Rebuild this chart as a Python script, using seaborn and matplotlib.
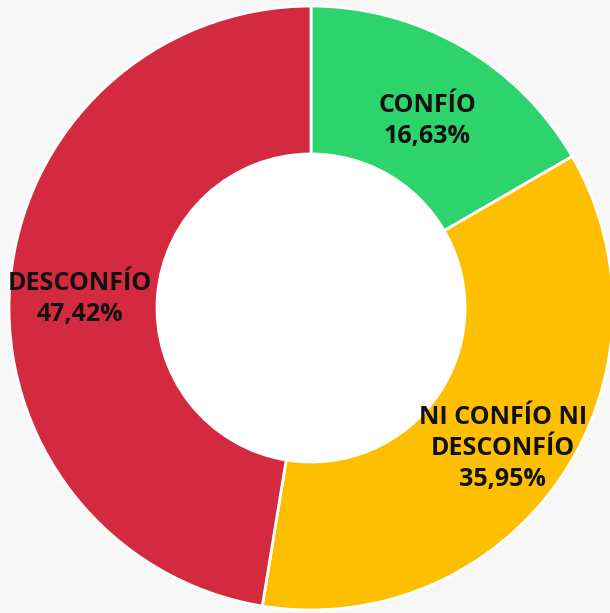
import matplotlib
matplotlib.use("Agg")
import matplotlib.pyplot as plt
import seaborn as sns

# data
categorias = ["CONFÍO", "NI CONFÍO NI\nDESCONFÍO", "DESCONFÍO"]
porcentajes = [16.63, 35.95, 47.42]
colores = ["#2dd36b", "#fdbf00", "#d42a40"]
etiquetas = ["16,63%", "35,95%", "47,42%"]

sns.set_theme(style="white")
plt.rcParams["font.family"] = ["Open Sans", "DejaVu Sans"]

fig = plt.figure(figsize=(6.10, 6.13), dpi=100)
fig.patch.set_facecolor("#f7f7f7")
ax = fig.add_axes([0, 0, 1, 1])
ax.set_facecolor("#f7f7f7")

wedges, _ = ax.pie(
    porcentajes,
    colors=colores,
    startangle=90,
    counterclock=False,
    radius=1.0,
    wedgeprops=dict(width=0.49, edgecolor="white", linewidth=2),
)
hole = plt.Circle((0, 0), 0.51, color="white", zorder=3)
ax.add_artist(hole)

# label positions (data units, radius = 1)
posiciones = [(0.384, 0.62), (0.635, -0.465), (-0.765, 0.03)]
for cat, pct, (x, y) in zip(categorias, etiquetas, posiciones):
    ax.text(x, y, cat + "\n" + pct, ha="center", va="center",
            fontsize=18, fontweight="bold", color="#111111",
            linespacing=1.32, zorder=4)

ax.set_xlim(-1.0298, 0.990)
ax.set_ylim(-1.0099, 1.0199)
ax.set_aspect("equal")
ax.axis("off")

fig.savefig("out.png", dpi=100, facecolor=fig.get_facecolor())
